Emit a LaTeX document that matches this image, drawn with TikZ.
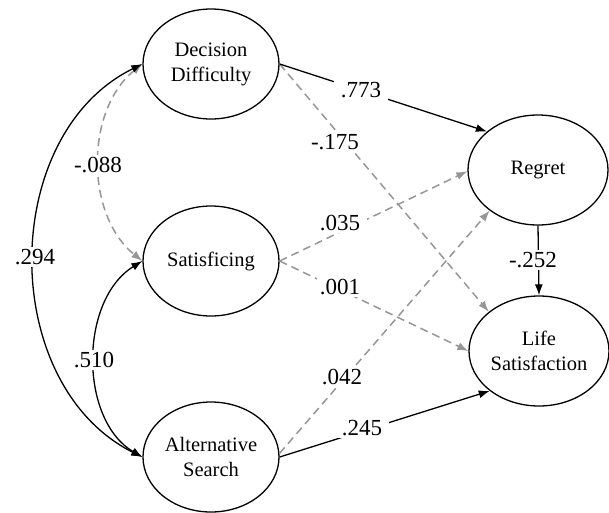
\documentclass[tikz,border=0pt]{standalone}
\usepackage{fontspec}
\setmainfont{Liberation Serif}
\usetikzlibrary{arrows.meta,shapes.geometric}
\definecolor{nsgray}{RGB}{150,150,150}
\begin{document}
\begin{tikzpicture}[x=1pt,y=-1pt,
  latent/.style={ellipse,draw,line width=1.3pt,minimum width=136pt,minimum height=110pt,inner sep=0pt,align=center,font=\fontsize{20.5}{25}\selectfont},
  sig/.style={line width=1.3pt,-{Latex[length=11pt,width=8pt]}},
  both/.style={line width=1.3pt,{Latex[length=11pt,width=8pt]}-{Latex[length=11pt,width=8pt]}},
  ns/.style={draw=nsgray,line width=1.5pt,dash pattern=on 8pt off 5pt},
  coef/.style={fill=white,inner xsep=7pt,inner ysep=2pt,font=\fontsize{23}{25}\selectfont}]
\useasboundingbox (0,0) rectangle (609,512);
% nodes
\node[latent] (DD) at (211,64) {Decision\\Difficulty};
\node[latent] (Sat) at (211,261) {Satisficing};
\node[latent] (AS) at (211,457) {Alternative\\Search};
\node[latent,minimum width=140pt] (Reg) at (538,170) {Regret};
\node[latent,minimum width=140pt] (LS) at (539,351) {Life\\Satisfaction};
% correlations
\draw[both,ns,nsgray] (DD.west) .. controls (85,110) and (85,215) .. (Sat.west);
\draw[both] (DD.west) .. controls (-2,135) and (-2,385) .. (AS.west);
\draw[both] (Sat.west) .. controls (79,300) and (79,420) .. (AS.west);
% paths
\draw[sig,ns,nsgray] (DD.east) -- (LS.142);
\draw[sig,ns,nsgray] (Sat.east) -- (Reg.181);
\draw[sig,ns,nsgray] (Sat.east) -- (LS.180);
\draw[sig,ns,nsgray] (AS.3) -- (Reg.220);
\draw[sig] (DD.east) -- (Reg.143);
\draw[sig] (AS.east) -- (LS.219);
\draw[sig] (Reg.south) -- (LS.north);
% coefficients
\node[coef] (c1) at (361,90) {.773};
\node[coef,inner xsep=3pt] (c2) at (335,142) {-.175};
\node[coef] (c3) at (340,223) {.035};
\node[coef,inner xsep=3pt] (c4) at (340,287) {.001};
\node[coef] (c5) at (342,377) {.042};
\node[coef] (c6) at (362,428) {.245};
\node[coef,inner xsep=1pt] (c7) at (533,260) {-.252};
\node[coef,inner xsep=1pt] (c8) at (35,257) {.294};
\node[coef,inner xsep=1pt] (c9) at (98,165) {-.088};
\node[coef,inner xsep=1pt] (c10) at (94,360) {.510};
\end{tikzpicture}
\end{document}
